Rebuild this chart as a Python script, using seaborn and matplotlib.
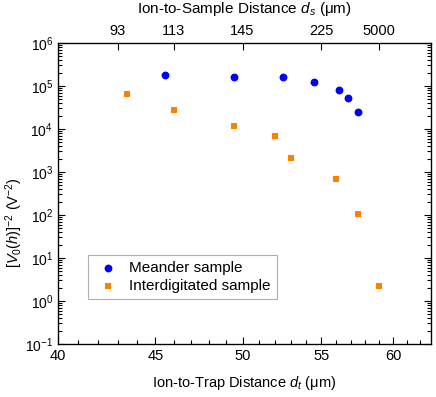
import matplotlib
matplotlib.use("Agg")
import matplotlib.pyplot as plt
import matplotlib.ticker as mticker
import numpy as np
import seaborn as sns

# values
meander_dt = [45.5, 49.5, 52.5, 54.5, 56.2, 56.8, 57.5]
meander_v = [1.83e5, 1.62e5, 1.62e5, 1.26e5, 7.9e4, 5.35e4, 2.5e4]

inter_dt = [43.5, 46.0, 49.5, 52.0, 53.0, 56.0, 57.5, 59.0]
inter_v = [6.5e4, 2.72e4, 1.16e4, 6.9e3, 2.08e3, 670, 105, 2.2]

top_tick_dt = [43, 46, 50, 55, 59]
top_tick_labels = ["93", "113", "145", "225", "5000"]

bottom_ticks = [40, 45, 50, 55, 60]
y_decades = [1e-1, 1e0, 1e1, 1e2, 1e3, 1e4, 1e5, 1e6]

plt.rcParams['font.family'] = ['Liberation Sans', 'DejaVu Sans']
plt.rcParams['mathtext.fontset'] = 'custom'
plt.rcParams['mathtext.rm'] = 'Liberation Sans'
plt.rcParams['mathtext.it'] = 'Liberation Sans:italic'
plt.rcParams['mathtext.bf'] = 'Liberation Sans:bold'

fig = plt.figure(figsize=(4.36, 3.97), dpi=100)
ax = fig.add_axes([0.133, 0.1335, 0.8555, 0.7582])

sns.scatterplot(x=meander_dt, y=meander_v, color='#0000FF', marker='o',
                s=32, linewidth=0, label='Meander sample', ax=ax)
sns.scatterplot(x=inter_dt, y=inter_v, color='#FF8000', marker='s',
                s=24, linewidth=0, label='Interdigitated sample', ax=ax)

ax.set_xscale('log')
ax.set_yscale('log')
ax.set_xlim(40, 62.8)
ax.set_ylim(1e-1, 1e6)

ax.set_xticks(bottom_ticks, [str(t) for t in bottom_ticks])
ax.set_xticks(np.arange(41, 63), minor=True)
ax.xaxis.set_minor_formatter(mticker.NullFormatter())
ax.yaxis.set_major_locator(mticker.FixedLocator(y_decades))
ax.yaxis.set_minor_locator(mticker.LogLocator(base=10, subs=np.arange(2, 10), numticks=20))
ax.yaxis.set_minor_formatter(mticker.NullFormatter())

ax.tick_params(which='both', direction='in', right=True, width=0.8, colors='black')
ax.tick_params(which='major', length=5)
ax.tick_params(which='minor', length=3)
ax.tick_params(axis='x', labelsize=10.5)
ax.tick_params(axis='y', labelsize=10)

ax.set_xlabel(r'Ion-to-Trap Distance $d_t$ (μm)', fontsize=10.5, labelpad=8)
ax.set_ylabel(r'$[V_0(h)]^{-2}$ (V$^{-2}$)', fontsize=10.5)
# the label sits a bit below the middle of the axis in the original
ax.yaxis.set_label_coords(-0.088, 0.405)

for sp in ax.spines.values():
    sp.set_linewidth(0.9)

ax2 = ax.twiny()
ax2.set_xscale('log')
ax2.set_xlim(ax.get_xlim())
ax2.set_xticks(top_tick_dt, top_tick_labels)
ax2.xaxis.set_minor_locator(mticker.NullLocator())
ax2.tick_params(direction='in', length=5, width=0.8, labelsize=10.5)
ax2.set_xlabel(r'Ion-to-Sample Distance $d_s$ (μm)', fontsize=11, labelpad=8)

leg = ax.legend(
    loc='lower left', bbox_to_anchor=(0.08, 0.15), borderaxespad=0,
    fancybox=False, edgecolor='#b0b0b0', framealpha=1, fontsize=11,
    handlelength=1.8, handletextpad=0.5, borderpad=0.4, labelspacing=0.25,
)
leg.get_frame().set_linewidth(0.8)

fig.savefig('out.png', dpi=100)
